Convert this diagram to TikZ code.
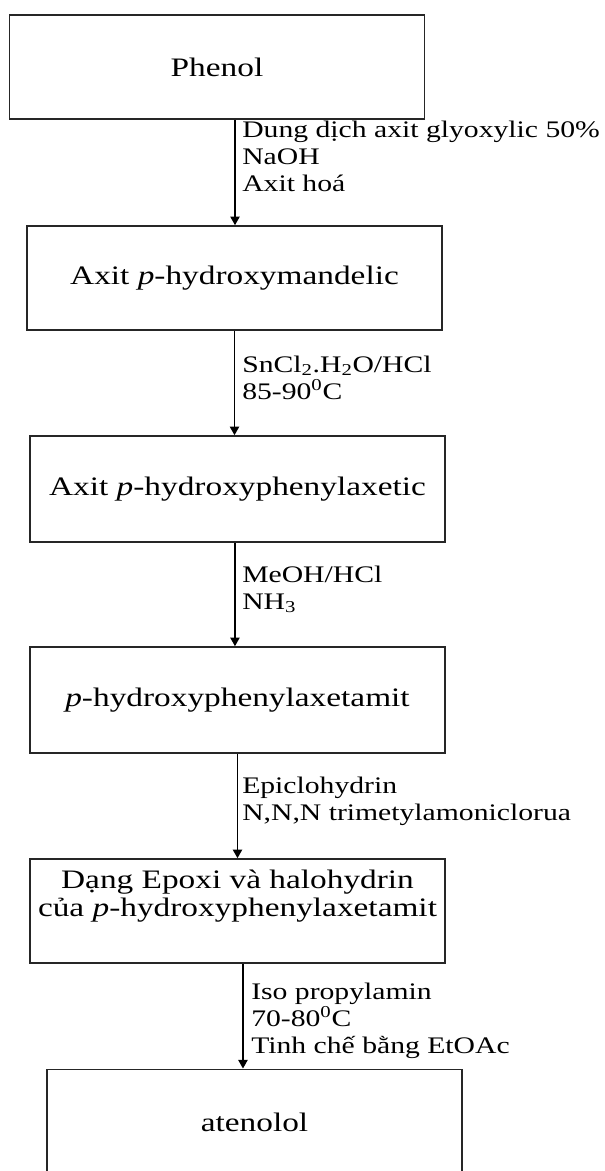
\documentclass[tikz,border=0pt]{standalone}
\usepackage{fontspec}
\setmainfont{Liberation Serif}[FakeStretch=1.25]
\usetikzlibrary{arrows.meta}
\begin{document}
\begin{tikzpicture}[x=0.75pt,y=-0.75pt,
  stepbox/.style={draw=black!85,line width=1.2pt,rectangle,inner sep=0pt,
    minimum width=311.25pt,align=center,font=\fontsize{20}{21}\selectfont},
  cond/.style={anchor=base west,inner sep=0pt,align=left,
    font=\fontsize{17.8}{20}\selectfont},
  arr/.style={draw=black,line width=1.1pt,-{Triangle[width=7pt,length=6.5pt]}}]
\useasboundingbox[fill=white] (0,0) rectangle (605,1171);
\node[stepbox,minimum height=78pt] (b1) at (217,67) {Phenol};
\node[stepbox,minimum height=78pt] (b2) at (234.5,278) {Axit \textit{p}-hydroxymandelic};
\node[stepbox,minimum height=79.5pt] (b3) at (237.5,489) {Axit \textit{p}-hydroxyphenylaxetic};
\node[stepbox,minimum height=79.5pt] (b4) at (237.5,700) {\textit{p}-hydroxyphenylaxetamit};
\node[stepbox,minimum height=78pt] (b5) at (237.5,911) {Dạng Epoxi và halohydrin\\của \textit{p}-hydroxyphenylaxetamit\\\strut};
\node[stepbox,minimum height=79pt] (b6) at (254.5,1122) {atenolol};
\draw[arr] ([xshift=13.5pt]b1.south) -- ([xshift=13.5pt]b1.south |- b2.north);
\draw[arr] (b2.south) -- (b2.south |- b3.north);
\draw[arr] ([xshift=-1.9pt]b3.south) -- ([xshift=-1.9pt]b3.south |- b4.north);
\draw[arr] (b4.south) -- (b5.north);
\draw[arr] ([xshift=4.1pt]b5.south) -- ([xshift=4.1pt]b5.south |- b6.north);
\node[cond] (c1) at (242,191) {Dung dịch axit glyoxylic 50\%\\NaOH\\Axit hoá};
\node[cond] (c2) at (242,399) {SnCl\textsubscript{2}.H\textsubscript{2}O/HCl\\85-90\textsuperscript{0}C};
\node[cond] (c3) at (242,609) {MeOH/HCl\\NH\textsubscript{3}};
\node[cond] (c4) at (242,820) {Epiclohydrin\\N,N,N trimetylamoniclorua};
\node[cond] (c5) at (251,1053) {Iso propylamin\\70-80\textsuperscript{0}C\\Tinh chế bằng EtOAc};
\end{tikzpicture}
\end{document}
